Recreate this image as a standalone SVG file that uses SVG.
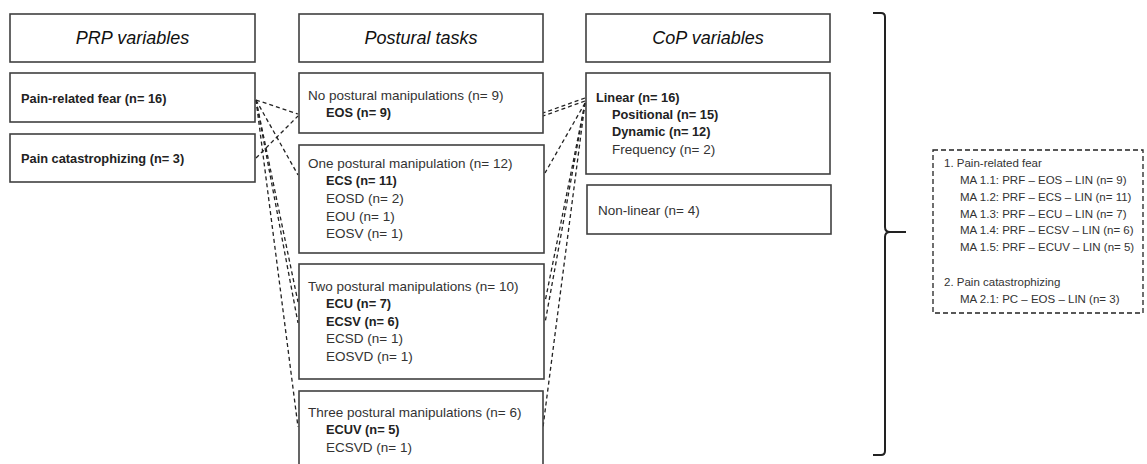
<svg xmlns="http://www.w3.org/2000/svg" width="1147" height="464" viewBox="0 0 1147 464">
<style>
.box{fill:#fff;stroke:#404040;stroke-width:1.6}
.hdr{font-family:"Liberation Sans",Arial,sans-serif;font-style:italic;font-size:18px;fill:#111;text-anchor:middle}
.t{font-family:"Liberation Sans",Arial,sans-serif;font-size:13.5px;fill:#333}
.b{font-family:"Liberation Sans",Arial,sans-serif;font-size:12.8px;font-weight:bold;fill:#222}
.s{font-family:"Liberation Sans",Arial,sans-serif;font-size:11.5px;fill:#333}
.dash{fill:none;stroke:#222;stroke-width:1.3;stroke-dasharray:4 3}
</style>
<rect width="1147" height="464" fill="#fff"/>
<g id="connectors">
<line class="dash" x1="256" y1="100" x2="298" y2="114"/>
<line class="dash" x1="256" y1="158" x2="298" y2="116"/>
<line class="dash" x1="256" y1="100" x2="298" y2="175"/>
<line class="dash" x1="256" y1="100" x2="298" y2="302"/>
<line class="dash" x1="256" y1="100" x2="298" y2="323"/>
<line class="dash" x1="256" y1="100" x2="298" y2="427"/>
<line class="dash" x1="585" y1="98" x2="543" y2="113"/>
<line class="dash" x1="585" y1="101" x2="543" y2="116"/>
<line class="dash" x1="585" y1="103" x2="545" y2="173"/>
<line class="dash" x1="585" y1="103" x2="545" y2="302"/>
<line class="dash" x1="585" y1="103" x2="545" y2="323"/>
<line class="dash" x1="585" y1="103" x2="543" y2="427"/>
</g>
<g id="hdr-prp"><rect class="box" x="10" y="14" width="245" height="48"/><text class="hdr" x="132.5" y="44">PRP variables</text></g>
<g id="hdr-tasks"><rect class="box" x="299" y="14" width="244" height="48"/><text class="hdr" x="421" y="44">Postural tasks</text></g>
<g id="hdr-cop"><rect class="box" x="586" y="14" width="244" height="48"/><text class="hdr" x="708" y="44">CoP variables</text></g>
<g id="prf"><rect class="box" x="10" y="73" width="245" height="49"/><text class="b" x="21" y="103">Pain-related fear (n= 16)</text></g>
<g id="pc"><rect class="box" x="10" y="134" width="245" height="48"/><text class="b" x="21" y="163">Pain catastrophizing (n= 3)</text></g>
<g id="task0"><rect class="box" x="299" y="73" width="244" height="60"/>
<text class="t" x="308" y="100">No postural manipulations (n= 9)</text>
<text class="b" x="326" y="117">EOS (n= 9)</text></g>
<g id="task1"><rect class="box" x="299" y="145" width="245" height="108"/>
<text class="t" x="308" y="168">One postural manipulation (n= 12)</text>
<text class="b" x="326" y="185">ECS (n= 11)</text>
<text class="t" x="326" y="203">EOSD (n= 2)</text>
<text class="t" x="326" y="221">EOU (n= 1)</text>
<text class="t" x="326" y="238">EOSV (n= 1)</text></g>
<g id="task2"><rect class="box" x="299" y="264" width="245" height="115"/>
<text class="t" x="308" y="291">Two postural manipulations (n= 10)</text>
<text class="b" x="326" y="308">ECU (n= 7)</text>
<text class="b" x="326" y="326">ECSV (n= 6)</text>
<text class="t" x="326" y="343">ECSD (n= 1)</text>
<text class="t" x="326" y="361">EOSVD (n= 1)</text></g>
<g id="task3"><rect class="box" x="299" y="391" width="244" height="80"/>
<text class="t" x="308" y="417">Three postural manipulations (n= 6)</text>
<text class="b" x="326" y="434">ECUV (n= 5)</text>
<text class="t" x="326" y="452">ECSVD (n= 1)</text></g>
<g id="linear"><rect class="box" x="586" y="73" width="244" height="101"/>
<text class="b" x="596" y="102">Linear (n= 16)</text>
<text class="b" x="612" y="119">Positional (n= 15)</text>
<text class="b" x="612" y="136">Dynamic (n= 12)</text>
<text class="t" x="612" y="154">Frequency (n= 2)</text></g>
<g id="nonlinear"><rect class="box" x="587" y="185" width="244" height="49"/>
<text class="t" x="598" y="215">Non-linear (n= 4)</text></g>
<g id="brace"><path d="M873 13 H881 Q885 13 885 17 V227 Q885 232 890 232 H906 M890 232 Q885 232 885 237 V451 Q885 455 881 455 H873" fill="none" stroke="#222" stroke-width="2"/></g>
<g id="summary"><rect x="933" y="150" width="210" height="163" fill="none" stroke="#222" stroke-width="1.3" stroke-dasharray="5 3"/>
<text class="s" x="944" y="167">1. Pain-related fear</text>
<text class="s" x="960" y="184">MA 1.1: PRF – EOS – LIN (n= 9)</text>
<text class="s" x="960" y="201">MA 1.2: PRF – ECS – LIN (n= 11)</text>
<text class="s" x="960" y="218">MA 1.3: PRF – ECU – LIN (n= 7)</text>
<text class="s" x="960" y="234">MA 1.4: PRF – ECSV – LIN (n= 6)</text>
<text class="s" x="960" y="251">MA 1.5: PRF – ECUV – LIN (n= 5)</text>
<text class="s" x="944" y="286">2. Pain catastrophizing</text>
<text class="s" x="960" y="303">MA 2.1: PC – EOS – LIN (n= 3)</text></g>
</svg>
